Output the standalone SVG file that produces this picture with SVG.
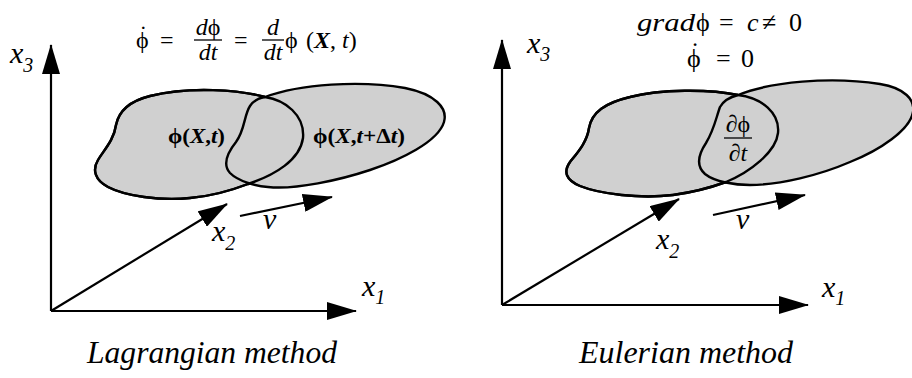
<svg xmlns="http://www.w3.org/2000/svg" xmlns:xlink="http://www.w3.org/1999/xlink" width="912" height="378" viewBox="0 0 912 378">
<style>
  .bg { fill: #ffffff; }
  .region { fill: #d0d0d0; stroke: #000; stroke-width: 2.4; stroke-linejoin: round; }
  .outline { fill: none; stroke: #000; stroke-width: 2.4; stroke-linejoin: round; }
  .axis { stroke: #000; stroke-width: 2.2; fill: none; marker-end: url(#arrow); }
  .bar { stroke: #000; stroke-width: 1.3; }
  text { font-family: 'Liberation Serif', 'DejaVu Serif', serif; fill: #000; }
  .it { font-style: italic; }
  .lab { font-size: 30px; font-style: italic; }
  .sub { font-size: 20px; font-style: italic; }
  .f1 { font-size: 24px; }
  .f2 { font-size: 26px; }
  .bold { font-size: 22px; font-weight: bold; }
  .cap { font-size: 31px; font-style: italic; }
</style>
<defs>
  <marker id="arrow" markerUnits="userSpaceOnUse" markerWidth="30" markerHeight="18" viewBox="0 0 30 18" refX="29" refY="9" orient="auto">
    <path d="M0,0 L30,9 L0,18 Z" fill="#000"/>
  </marker>
  <path id="La" d="M 265,97 C 240,90 190,86 150,96 C 130,101 119,110 116,125 C 114,140 104,150 98,160 C 92,170 95,180 108,187 C 125,196 160,201 190,198 C 215,196 235,189 248,184 C 275,175 300,160 303,138 C 305,115 285,100 265,97 Z"/>
  <path id="Lb" d="M 265,97 C 300,84 360,80 405,88 C 435,94 448,108 444,122 C 438,142 400,160 370,170 C 340,180 295,190 268,187 C 255,186 238,181 230,173 C 222,164 228,152 236,142 C 245,130 244,115 250,106 C 254,100 258,98 265,97 Z"/>
  <path id="Ea" d="M 738,95 C 710,89 660,89 630,97 C 605,103 592,112 589,128 C 587,142 578,152 570,162 C 563,172 566,180 580,186 C 600,194 640,199 673,195 C 695,192 715,186 726,182 C 750,172 776,152 778,133 C 780,113 762,98 738,95 Z"/>
  <path id="Eb" d="M 738,95 C 770,82 830,76 880,84 C 905,88 915,100 913,112 C 910,130 880,150 850,162 C 820,175 780,185 750,185 C 735,185 715,182 705,174 C 696,166 698,155 706,143 C 714,130 716,118 720,107 C 724,100 730,97 738,95 Z"/>
</defs>
<rect class="bg" x="0" y="0" width="912" height="378"/>

<!-- Lagrangian panel -->
<g id="lag-region-t"><use xlink:href="#La" href="#La" class="region"/></g>
<g id="lag-region-tdt"><use xlink:href="#Lb" href="#Lb" class="region"/></g>
<g id="lag-outline"><use xlink:href="#La" href="#La" class="outline"/></g>
<g id="lag-labels">
  <text class="bold" x="168" y="143" textLength="57" lengthAdjust="spacingAndGlyphs">ϕ(<tspan font-style="italic">X</tspan>,<tspan font-style="italic">t</tspan>)</text>
  <text class="bold" x="313" y="143" textLength="92" lengthAdjust="spacingAndGlyphs">ϕ(<tspan font-style="italic">X</tspan>,<tspan font-style="italic">t</tspan>+Δ<tspan font-style="italic">t</tspan>)</text>
</g>
<g id="lag-formula">
  <text class="f1" x="136" y="48">ϕ<tspan dx="-9.5" dy="-6">˙</tspan></text>
  <text class="f1" x="160" y="48">=</text>
  <text class="f1 it" x="208" y="35" text-anchor="middle">d<tspan font-style="normal">ϕ</tspan></text>
  <line class="bar" x1="194" y1="40" x2="222" y2="40"/>
  <text class="f1 it" x="208" y="60" text-anchor="middle">dt</text>
  <text class="f1" x="234" y="48">=</text>
  <text class="f1 it" x="273" y="35" text-anchor="middle">d</text>
  <line class="bar" x1="262" y1="40" x2="284" y2="40"/>
  <text class="f1 it" x="273" y="60" text-anchor="middle">dt</text>
  <text class="f1" x="285" y="48">ϕ</text>
  <text class="f1" x="306" y="48">(<tspan font-style="italic" font-weight="bold">X</tspan>, <tspan font-style="italic">t</tspan>)</text>
</g>
<g id="lag-axes">
  <line class="axis" x1="51" y1="311" x2="51" y2="45"/>
  <line class="axis" x1="51" y1="311" x2="356" y2="311"/>
  <line class="axis" x1="51" y1="311" x2="227" y2="204"/>
  <line class="axis" x1="240" y1="216" x2="332" y2="197"/>
</g>
<g id="lag-axis-labels">
  <text class="lab" x="10" y="63">x<tspan class="sub" dy="9">3</tspan></text>
  <text class="lab" x="212" y="241">x<tspan class="sub" dy="9">2</tspan></text>
  <text class="lab" x="362" y="296">x<tspan class="sub" dy="8">1</tspan></text>
  <text class="lab" x="263" y="229">v</text>
</g>
<text class="cap" x="87" y="363" textLength="250" lengthAdjust="spacingAndGlyphs">Lagrangian method</text>

<!-- Eulerian panel -->
<g id="eul-region-a"><use xlink:href="#Ea" href="#Ea" class="region"/></g>
<g id="eul-region-b"><use xlink:href="#Eb" href="#Eb" class="region"/></g>
<g id="eul-outline"><use xlink:href="#Ea" href="#Ea" class="outline"/></g>
<g id="eul-labels">
  <text class="f1" x="738" y="132" text-anchor="middle">∂ϕ</text>
  <line class="bar" x1="724" y1="138" x2="752" y2="138"/>
  <text class="f1" x="738" y="161" text-anchor="middle">∂<tspan font-style="italic">t</tspan></text>
</g>
<g id="eul-formula">
  <text class="f2" y="31"><tspan class="it" x="637" textLength="58" lengthAdjust="spacingAndGlyphs">grad</tspan><tspan x="696">ϕ</tspan><tspan x="719">=</tspan><tspan class="it" x="747">c</tspan><tspan x="762">≠</tspan><tspan x="789">0</tspan></text>
  <text class="f2" x="687" y="67">ϕ<tspan dx="-10" dy="-7">˙</tspan></text>
  <text class="f2" x="716" y="67">=</text>
  <text class="f2" x="741" y="67">0</text>
</g>
<g id="eul-axes">
  <line class="axis" x1="502" y1="305" x2="502" y2="40"/>
  <line class="axis" x1="502" y1="305" x2="808" y2="305"/>
  <line class="axis" x1="502" y1="305" x2="679" y2="199"/>
  <line class="axis" x1="713" y1="215" x2="805" y2="195"/>
</g>
<g id="eul-axis-labels">
  <text class="lab" x="527" y="53">x<tspan class="sub" dy="8">3</tspan></text>
  <text class="lab" x="656" y="249">x<tspan class="sub" dy="9">2</tspan></text>
  <text class="lab" x="822" y="297">x<tspan class="sub" dy="8">1</tspan></text>
  <text class="lab" x="736" y="229">v</text>
</g>
<text class="cap" x="579" y="363" textLength="214" lengthAdjust="spacingAndGlyphs">Eulerian method</text>
</svg>
